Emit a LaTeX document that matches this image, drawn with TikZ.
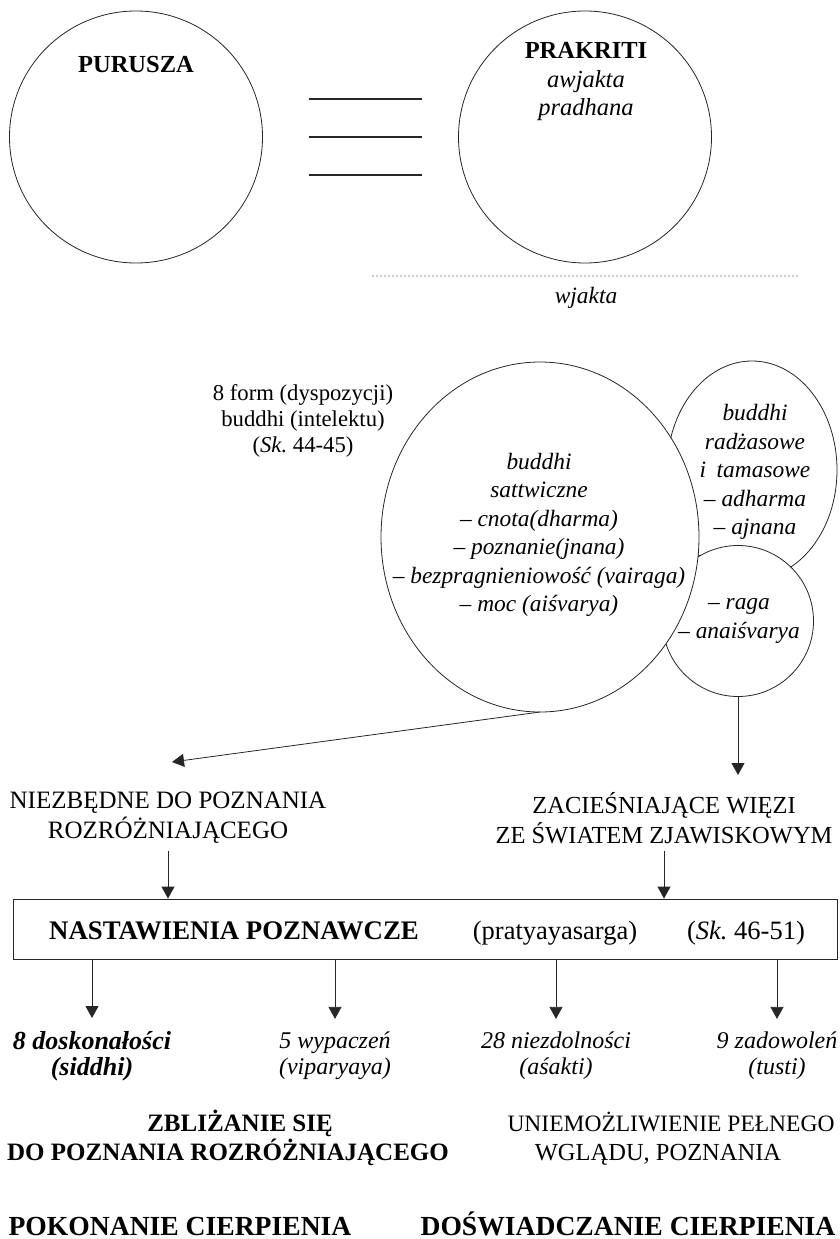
\documentclass[tikz,border=0pt]{standalone}
\usepackage{fontspec}
\setmainfont{Liberation Serif}
\usetikzlibrary{shapes.geometric,arrows.meta}
\begin{document}
\begin{tikzpicture}[
  x=1pt, y=-1pt,
  blob/.style={draw=black!85, line width=0.8pt, fill=white, inner sep=0pt, outer sep=0pt},
  conn/.style={draw=black!85, line width=0.8pt, -{Triangle[length=12pt,width=13pt]}},
  eqline/.style={draw=black!85, line width=1.1pt},
  dotline/.style={draw=black!85, line width=1.2pt, line cap=round, dash pattern=on 0pt off 4pt},
  lbl/.style={align=center, inner sep=0pt},
  capsfont/.style={font=\fontsize{24.5}{30}\selectfont},
  titlefont/.style={font=\fontsize{24.5}{28.5}\selectfont\bfseries},
  formfont/.style={font=\fontsize{22.7}{26}\selectfont},
  italfont/.style={font=\fontsize{23.4}{28.4}\selectfont\itshape},
  boxfont/.style={font=\fontsize{26.5}{30}\selectfont},
  leaffont/.style={font=\fontsize{24}{26}\selectfont\itshape},
  boldcaps/.style={font=\fontsize{25}{30}\selectfont\bfseries},
  bigbold/.style={font=\fontsize{27.6}{32}\selectfont\bfseries},
]
\useasboundingbox (0,0) rectangle (839,1239);

% --- purusza and prakriti ---
\node[blob, ellipse, minimum width=253pt, minimum height=252pt] (purusza) at (136,137) {};
\node[blob, ellipse, minimum width=253pt, minimum height=252pt] (prakriti) at (585,137) {};
\node[lbl, titlefont, anchor=base] (puruszaT) at (136,73) {PURUSZA};
\node[lbl, titlefont] (prakritiT) at (586,82) {PRAKRITI\\\mdseries\itshape awjakta\\\mdseries\itshape pradhana};

\draw[eqline] (309,99) -- (422,99);
\draw[eqline] (309,137) -- (422,137);
\draw[eqline] (309,175) -- (422,175);

\draw[dotline] (373,276) -- (797,276);
\node[lbl, italfont, anchor=base] (wjakta) at (586,303) {wjakta};

% --- the forms of buddhi ---
\node[blob, ellipse, minimum width=170pt, minimum height=218pt] (rajas) at (752,470) {};
\node[blob, circle, minimum size=151pt] (raga) at (738,621) {};
\node[blob, ellipse, minimum width=318pt, minimum height=350pt] (sattva) at (540,537) {};

\node[lbl, formfont] (forms) at (303,421) {8 form (dyspozycji)\\buddhi (intelektu)\\(\textit{Sk.}~44-45)};
\node[lbl, italfont] (sattvaT) at (539,535) {buddhi\\sattwiczne\\– cnota(dharma)\\– poznanie(jnana)\\– bezpragnieniowość (vairaga)\\– moc (aiśvarya)};
\node[lbl, italfont] (rajasT) at (755,472) {buddhi\\radżasowe\\i\hspace{0.45em}tamasowe\\– adharma\\– ajnana};
\node[lbl, italfont] (ragaT) at (739,621) {– raga\\– anaiśvarya};

\coordinate (leftTip) at (172,762);
\coordinate (rightTip) at (738,775);
\draw[conn] (sattva.south) -- (leftTip);
\draw[conn] (raga.south) -- (rightTip);

\node[lbl, capsfont, font=\fontsize{25}{30}\selectfont] (needed) at (168,818) {NIEZBĘDNE DO POZNANIA\\ROZRÓŻNIAJĄCEGO};
\node[lbl, capsfont] (binding) at (664,818) {ZACIEŚNIAJĄCE WIĘZI\\ZE ŚWIATEM ZJAWISKOWYM};

% --- cognitive dispositions ---
\node[draw=black!85, line width=0.8pt, minimum width=824pt, minimum height=60pt, inner sep=0pt] (box) at (425,929) {};
\node[lbl, anchor=base, font=\fontsize{26.8}{30}\selectfont\bfseries] (cog) at (234,939) {NASTAWIENIA POZNAWCZE};
\node[lbl, boxfont, anchor=base] (pratya) at (555,939) {(pratyayasarga)};
\node[lbl, boxfont, anchor=base] (skB) at (746,939) {(\textit{Sk.}~46-51)};

\draw[conn, shorten <=7pt] (needed.south) -- (needed.south |- box.north);
\draw[conn, shorten <=7pt] (binding.south) -- (binding.south |- box.north);

\node[lbl, font=\fontsize{26}{26}\selectfont\itshape\bfseries] (siddhi) at (92,1056) {8 doskonałości\\(siddhi)};
\node[lbl, leaffont] (viparyaya) at (335,1056) {5 wypaczeń\\(viparyaya)};
\node[lbl, leaffont] (asakti) at (556,1056) {28 niezdolności\\(aśakti)};
\node[lbl, leaffont] (tusti) at (777,1056) {9 zadowoleń\\(tusti)};

\foreach \n in {siddhi, viparyaya, asakti, tusti}
  \draw[conn, shorten >=13pt] (\n.north |- box.south) -- (\n.north);

% --- outcomes ---
\node[lbl, boldcaps, anchor=base] (approachA) at (240,1131) {ZBLIŻANIE SIĘ};
\node[lbl, boldcaps, anchor=base] (approachB) at (228,1160) {DO POZNANIA ROZRÓŻNIAJĄCEGO};
\node[lbl, capsfont, anchor=base, font=\fontsize{23.5}{30}\selectfont] (preventA) at (671,1131) {UNIEMOŻLIWIENIE PEŁNEGO};
\node[lbl, capsfont, anchor=base] (preventB) at (658,1160) {WGLĄDU, POZNANIA};
\node[lbl, bigbold, anchor=base] (overcome) at (180,1235) {POKONANIE CIERPIENIA};
\node[lbl, bigbold, anchor=base] (suffer) at (628,1235) {DOŚWIADCZANIE CIERPIENIA};
\end{tikzpicture}
\end{document}
